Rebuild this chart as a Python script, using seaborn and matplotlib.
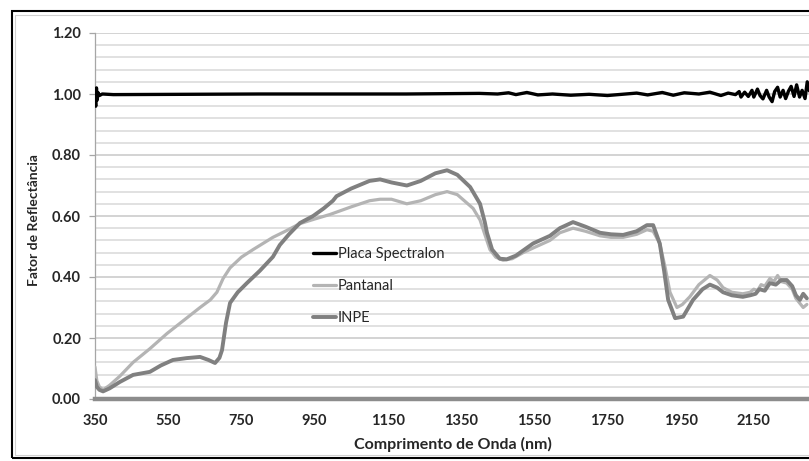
#%%
import numpy as np
import pandas as pd
import matplotlib
matplotlib.use("Agg")
import matplotlib.pyplot as plt
from matplotlib.patches import Rectangle
import seaborn as sns

#%% values
spectralon_nm = [350, 352, 354, 356, 358, 362, 370, 400, 600, 800, 1000, 1200, 1400, 1450,
                 1480, 1500, 1530, 1560, 1600, 1650, 1700, 1750, 1800, 1830, 1860, 1900,
                 1930, 1960, 2000, 2030, 2060, 2080, 2100, 2110, 2115, 2125, 2135, 2145,
                 2150, 2160, 2167, 2175, 2185, 2192, 2200, 2207, 2215, 2222, 2230, 2237,
                 2245, 2252, 2260, 2267, 2275, 2282, 2290, 2296, 2302]
spectralon = [0.99, 0.96, 1.02, 0.98, 1.005, 0.995, 1.0, 0.998, 0.999, 1.0, 1.0, 1.0, 1.002,
              1.0, 1.004, 0.998, 1.005, 0.997, 1.0, 0.996, 0.999, 0.995, 1.0, 1.003, 0.997,
              1.005, 0.996, 1.004, 1.0, 1.006, 0.995, 1.003, 0.998, 1.008, 0.99, 1.006, 0.992,
              1.012, 0.99, 1.016, 0.995, 0.984, 1.012, 0.99, 0.975, 1.008, 1.022, 0.99, 1.012,
              0.985, 1.01, 1.025, 0.992, 1.03, 0.99, 1.012, 0.985, 1.04, 1.01]

pantanal_nm = [350, 355, 362, 372, 390, 418, 454, 500, 547, 600, 637, 665, 683, 700, 719, 750,
               782, 836, 870, 910, 950, 992, 1050, 1100, 1129, 1160, 1202, 1240, 1280, 1312,
               1340, 1383, 1402, 1415, 1429, 1445, 1465, 1490, 1520, 1547, 1593, 1620, 1656,
               1690, 1730, 1760, 1793, 1830, 1858, 1875, 1893, 1908, 1921, 1940, 1955, 1975,
               2000, 2030, 2050, 2066, 2090, 2120, 2140, 2150, 2160, 2170, 2180, 2194, 2205,
               2215, 2225, 2240, 2255, 2265, 2275, 2285, 2295]
pantanal = [0.105, 0.06, 0.04, 0.03, 0.045, 0.075, 0.12, 0.165, 0.215, 0.265, 0.30, 0.325,
            0.35, 0.395, 0.43, 0.465, 0.49, 0.53, 0.55, 0.575, 0.59, 0.605, 0.63, 0.65, 0.655,
            0.655, 0.64, 0.65, 0.67, 0.68, 0.67, 0.625, 0.587, 0.54, 0.49, 0.465, 0.455, 0.46,
            0.48, 0.495, 0.52, 0.545, 0.56, 0.55, 0.535, 0.53, 0.53, 0.54, 0.555, 0.55, 0.51,
            0.43, 0.35, 0.30, 0.31, 0.335, 0.375, 0.405, 0.39, 0.365, 0.35, 0.345, 0.35, 0.36,
            0.355, 0.375, 0.37, 0.395, 0.385, 0.405, 0.385, 0.38, 0.36, 0.33, 0.315, 0.30, 0.31]

inpe_nm = [350, 355, 362, 372, 390, 418, 454, 500, 530, 563, 600, 637, 660, 678, 690, 697, 708,
           719, 740, 765, 800, 836, 855, 880, 910, 946, 975, 1000, 1010, 1050, 1100, 1129, 1160,
           1202, 1240, 1280, 1312, 1340, 1375, 1402, 1415, 1421, 1435, 1456, 1475, 1500, 1547,
           1593, 1620, 1656, 1690, 1730, 1760, 1793, 1830, 1858, 1875, 1893, 1905, 1916, 1935,
           1957, 1984, 2010, 2030, 2050, 2066, 2090, 2120, 2140, 2155, 2165, 2180, 2194, 2210,
           2225, 2240, 2255, 2265, 2276, 2285, 2295]
inpe = [0.062, 0.04, 0.03, 0.025, 0.035, 0.056, 0.079, 0.089, 0.11, 0.128, 0.134, 0.138, 0.128,
        0.118, 0.135, 0.16, 0.25, 0.315, 0.35, 0.38, 0.42, 0.466, 0.505, 0.54, 0.577, 0.60,
        0.625, 0.65, 0.665, 0.69, 0.715, 0.72, 0.71, 0.70, 0.715, 0.74, 0.75, 0.735, 0.695,
        0.64, 0.58, 0.545, 0.49, 0.46, 0.458, 0.47, 0.51, 0.535, 0.56, 0.58, 0.565, 0.545,
        0.54, 0.538, 0.55, 0.57, 0.57, 0.51, 0.42, 0.325, 0.265, 0.27, 0.325, 0.36, 0.375,
        0.365, 0.35, 0.34, 0.335, 0.34, 0.345, 0.36, 0.355, 0.38, 0.375, 0.39, 0.39, 0.37,
        0.34, 0.325, 0.345, 0.33]

x_ticks = [350, 550, 750, 950, 1150, 1350, 1550, 1750, 1950, 2150]
y_ticks = [0.0, 0.2, 0.4, 0.6, 0.8, 1.0, 1.2]

#%%
sns.set_theme(style="white")
plt.rcParams['font.family'] = ['Lato', 'DejaVu Sans']

W, H = 809, 461
fig = plt.figure(figsize=(W / 100, H / 100), dpi=100)
ax = fig.add_axes([95 / W, 1 - 399 / H, 1 - 95 / W, (399 - 33) / H])

sns.lineplot(x=pantanal_nm, y=pantanal, ax=ax, color='#b4b4b4', linewidth=2.3,
             label='Pantanal', estimator=None, sort=False, zorder=3)
sns.lineplot(x=inpe_nm, y=inpe, ax=ax, color='#808080', linewidth=2.8,
             label='INPE', estimator=None, sort=False, zorder=4)
sns.lineplot(x=spectralon_nm, y=spectralon, ax=ax, color='black', linewidth=2.4,
             label='Placa Spectralon', estimator=None, sort=False, zorder=5)

ax.set_xlim(350, 350 + (W - 95) * 200 / 73.2)
ax.set_ylim(0, 1.2)
ax.set_xticks(x_ticks)
ax.set_xticklabels([str(v) for v in x_ticks])
ax.set_yticks(y_ticks)
ax.set_yticklabels([f'{v:.2f}' for v in y_ticks])
ax.set_yticks(np.arange(0, 1.2001, 0.04), minor=True)

ax.grid(axis='y', which='major', color='#c8c8c8', linewidth=1.1, zorder=0)
ax.grid(axis='y', which='minor', color='#d9d9d9', linewidth=1.1, zorder=0)
ax.grid(axis='x', which='both', visible=False)

for s in ['top', 'right']:
    ax.spines[s].set_visible(False)
ax.spines['left'].set_color('#a6a6a6')
ax.spines['left'].set_linewidth(0.9)
ax.spines['bottom'].set_color('#8c8c8c')
ax.spines['bottom'].set_linewidth(3.2)
ax.spines['bottom'].set_zorder(6)

ax.tick_params(axis='y', which='major', left=True, length=4, width=0.9, color='#a6a6a6',
               pad=6, labelsize=10.5, labelcolor='#262626')
ax.tick_params(axis='y', which='minor', left=False, length=0)
ax.tick_params(axis='x', which='both', bottom=False, length=0, pad=11, labelsize=10.5,
               labelcolor='#262626')
for lab in ax.get_xticklabels() + ax.get_yticklabels():
    lab.set_fontweight('bold')

ax.set_ylabel('Fator de Reflectância', fontsize=10, fontweight='bold', color='#262626')
ax.yaxis.set_label_coords(-0.077, 0.49)
ax.set_xlabel('Comprimento de Onda (nm)', fontsize=11.5, fontweight='bold', color='#262626')
ax.xaxis.set_label_coords((453 - 95) / (W - 95), -0.103)

handles, labels = ax.get_legend_handles_labels()
order = [labels.index(n) for n in ['Placa Spectralon', 'Pantanal', 'INPE']]
ax.legend([handles[i] for i in order], [labels[i] for i in order],
          loc='upper left', bbox_to_anchor=(313 / W, 1 - 247 / H),
          bbox_transform=fig.transFigure, frameon=False, fontsize=10.5,
          handlelength=1.6, handletextpad=0.12, labelspacing=1.25,
          borderpad=0, borderaxespad=0, labelcolor='#262626')

# outer chart border (cut off on the right like the reference)
fig.patches.append(Rectangle((12 / W, 1 - 458 / H), 1.2, (458 - 11) / H,
                             transform=fig.transFigure, fill=False,
                             edgecolor='black', linewidth=1.5))
fig.patches.append(Rectangle((15 / W, 1 - 455 / H), 1.2, (455 - 15) / H,
                             transform=fig.transFigure, fill=False,
                             edgecolor='#d0d0d0', linewidth=0.8))

fig.savefig('out.png', dpi=100)
